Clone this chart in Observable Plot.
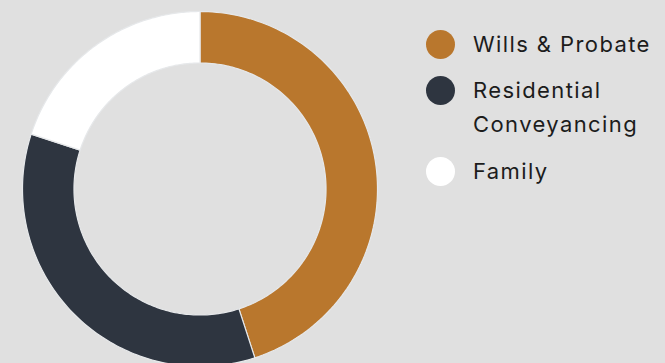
<!DOCTYPE html>
<html>
<head>
<meta charset="utf-8">
<script src="https://cdn.jsdelivr.net/npm/d3@7"></script>
<script src="https://cdn.jsdelivr.net/npm/@observablehq/plot@0.6"></script>
<style>
  html, body { margin: 0; padding: 0; background: #e0e0e0; }
  #wrap { position: relative; width: 665px; height: 363px; overflow: hidden; background: #e0e0e0; }
  #chart { position: absolute; left: 0; top: 0; }
  .item { position: absolute; left: 426px; font-family: Inter, "Noto Sans", sans-serif; font-size: 22px; line-height: 34px; color: #1c1c1c; letter-spacing: 1.4px; }
  .sw { position: absolute; left: 0; width: 29px; height: 29px; border-radius: 50%; }
  .lbl { position: absolute; left: 47px; white-space: nowrap; }
</style>
</head>
<body>
<div id="wrap"><div id="chart"></div><div id="legend"></div></div>
<script>
const categories = ["Wills & Probate", "Residential Conveyancing", "Family"];
const legendLines = [["Wills & Probate"], ["Residential", "Conveyancing"], ["Family"]];
const shares = [45, 35, 20];
const colors = ["#b9772d", "#2e3540", "#ffffff"];

const innerRatio = 0.71;
const arcs = d3.pie().sort(null).value(d => d)(shares);
const rows = [];
arcs.forEach((a, i) => {
  const n = 120;
  for (let k = 0; k <= n; k++) {
    const t = a.startAngle + (a.endAngle - a.startAngle) * k / n;
    rows.push({
      cat: categories[i],
      x1: Math.sin(t), y1: Math.cos(t),
      x2: innerRatio * Math.sin(t), y2: innerRatio * Math.cos(t)
    });
  }
});

const chart = Plot.plot({
  width: 665, height: 363,
  margin: 0,
  style: { background: "transparent" },
  x: { domain: [-1, 1], range: [22.5, 377.5], axis: null },
  y: { domain: [-1, 1], range: [366.5, 11.5], axis: null },
  color: { domain: categories, range: colors },
  marks: [
    Plot.area(rows, { x1: "x1", y1: "y1", x2: "x2", y2: "y2", z: "cat", fill: "cat", stroke: "#e6e8ea", strokeWidth: 1.2, curve: "linear" })
  ]
});
document.getElementById("chart").appendChild(chart);

const legend = document.getElementById("legend");
const tops = [26.7, 73.3, 154.3];
legendLines.forEach((lines, i) => {
  const it = document.createElement("div");
  it.className = "item";
  it.style.top = tops[i] + "px";
  const sw = document.createElement("div");
  sw.className = "sw";
  sw.style.background = colors[i];
  sw.style.top = "3px";
  it.appendChild(sw);
  const lb = document.createElement("div");
  lb.className = "lbl";
  lb.innerHTML = lines.map(s => s.replace("&", "&amp;")).join("<br>");
  it.appendChild(lb);
  legend.appendChild(it);
});
</script>
</body>
</html>
